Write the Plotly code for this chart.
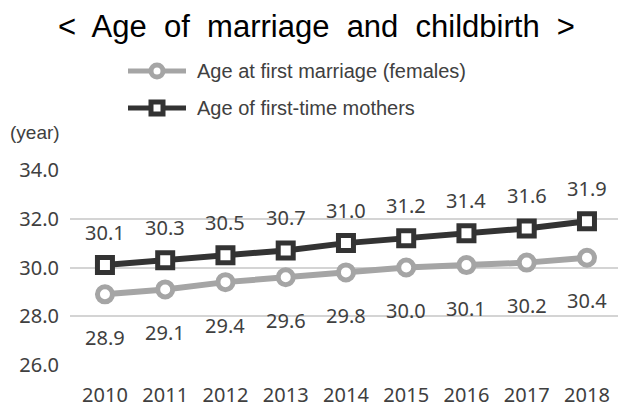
import plotly.graph_objects as go

# Data
years = [2010, 2011, 2012, 2013, 2014, 2015, 2016, 2017, 2018]
first_marriage_f = [28.9, 29.1, 29.4, 29.6, 29.8, 30.0, 30.1, 30.2, 30.4]
first_time_mothers = [30.1, 30.3, 30.5, 30.7, 31.0, 31.2, 31.4, 31.6, 31.9]
y_ticks = [26.0, 28.0, 30.0, 32.0, 34.0]
series_names = ["Age at first marriage (females)", "Age of first-time mothers"]
title_text = "<\u00a0 Age\u00a0 of\u00a0 marriage\u00a0 and\u00a0 childbirth\u00a0 >"
unit_text = "(year)"

W, H = 622, 408
ML, MR, MT, MB = 70, 4, 169, 42
PW, PH = W - ML - MR, H - MT - MB

GRAY = "#a5a5a5"
DARK = "#333333"
TEXT = "#404040"
GRID = "#d4d4d4"
NUM_FONT = "Noto Sans"
SANS = "Liberation Sans"


def px_x(px):
    return (px - ML) / PW


def px_y(py):
    return (H - MB - py) / PH


fig = go.Figure()

fig.add_trace(go.Scatter(
    x=years, y=first_marriage_f, mode="lines+markers", name=series_names[0],
    line=dict(color=GRAY, width=6),
    marker=dict(symbol="circle", size=15, color="white", line=dict(color=GRAY, width=5)),
    showlegend=False, cliponaxis=False,
))
fig.add_trace(go.Scatter(
    x=years, y=first_time_mothers, mode="lines+markers", name=series_names[1],
    line=dict(color=DARK, width=6),
    marker=dict(symbol="square", size=15, color="white", line=dict(color=DARK, width=5)),
    showlegend=False, cliponaxis=False,
))

annotations = []
# value labels: mothers above the line, marriage below
for x, v in zip(years, first_time_mothers):
    annotations.append(dict(x=x, y=v, xref="x", yref="y", text=f"{v:.1f}",
                            showarrow=False, yshift=33, yanchor="middle",
                            font=dict(family=NUM_FONT, size=20, color=TEXT)))
for x, v in zip(years, first_marriage_f):
    annotations.append(dict(x=x, y=v, xref="x", yref="y", text=f"{v:.1f}",
                            showarrow=False, yshift=-43, yanchor="middle",
                            font=dict(family=NUM_FONT, size=20, color=TEXT)))

# title and unit
annotations.append(dict(x=px_x(316), y=px_y(26), xref="paper", yref="paper",
                        text=title_text, showarrow=False, xanchor="center", yanchor="middle",
                        font=dict(family=SANS, size=31, color="black")))
annotations.append(dict(x=px_x(8), y=px_y(132), xref="paper", yref="paper",
                        text=unit_text, showarrow=False, xanchor="left", yanchor="middle",
                        font=dict(family=SANS, size=19, color=TEXT)))

# legend drawn as shapes + text
shapes = []
legend_rows = [(71, GRAY, "circle", series_names[0]), (108, DARK, "square", series_names[1])]
for ly, col, sym, name in legend_rows:
    shapes.append(dict(type="line", xref="paper", yref="paper",
                       x0=px_x(128), x1=px_x(186), y0=px_y(ly), y1=px_y(ly),
                       line=dict(color=col, width=5)))
    r = 6
    kind = "circle" if sym == "circle" else "rect"
    shapes.append(dict(type=kind, xref="paper", yref="paper",
                       x0=px_x(157 - r), x1=px_x(157 + r), y0=px_y(ly + r), y1=px_y(ly - r),
                       fillcolor="white", line=dict(color=col, width=5)))
    annotations.append(dict(x=px_x(195), y=px_y(ly), xref="paper", yref="paper",
                            text=name, showarrow=False, xanchor="left", yanchor="middle",
                            font=dict(family=SANS, size=20, color=TEXT)))

fig.update_layout(
    width=W, height=H,
    margin=dict(l=ML, r=MR, t=MT, b=MB, pad=0),
    paper_bgcolor="white", plot_bgcolor="white",
    annotations=annotations, shapes=shapes,
    showlegend=False,
)
fig.update_xaxes(
    range=[2009.42, 2018.515], tickmode="array", tickvals=years,
    ticktext=[str(y) for y in years], showgrid=False, zeroline=False, showline=False,
    ticks="", ticklabelstandoff=15, automargin=False,
    tickfont=dict(family=NUM_FONT, size=20, color=TEXT),
)
fig.update_yaxes(
    range=[25.96, 34.04], tickmode="array", tickvals=y_ticks,
    ticktext=[f"{v:.1f}" for v in y_ticks], showgrid=True, gridcolor=GRID,
    gridwidth=2, zeroline=False, showline=False, ticks="", ticklabelstandoff=10,
    automargin=False,
    tickfont=dict(family=NUM_FONT, size=20, color=TEXT),
)

fig.write_html("out.html")
